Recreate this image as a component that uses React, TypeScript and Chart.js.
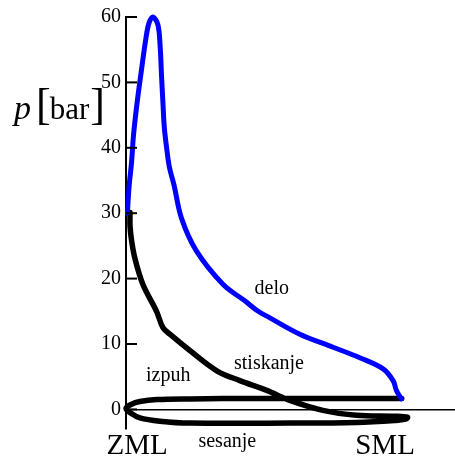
import { useEffect, useRef } from 'react';
import { Chart, registerables } from 'chart.js';

Chart.register(...registerables);

// y axis ticks (pressure, bar)
const yTickValues = [0, 10, 20, 30, 40, 50, 60];
// x axis labels (piston positions) and where they sit on the stroke axis (0..100)
const xTickLabels = ['ZML', 'SML'];
const xTickValues = [4, 93.3];

// blue curve: combustion + expansion ("delo")
const blueX = [0.5, 1.1, 2.0, 2.7, 4.0, 5.6, 7.2, 8.3, 9.7, 11.5, 12.3, 12.8, 13.3, 13.8, 14.6, 15.6, 17.3, 20.0, 25.4, 35.0, 42.8, 47.6, 51.8, 62.6, 74.6, 84.2, 92.6, 96.2, 97.4, 99.2];
const blueP = [30, 34, 37.8, 41.9, 46.9, 52, 56.8, 59.1, 60, 58.8, 55.5, 51, 46.9, 43.1, 40.1, 37.1, 34.3, 29.2, 24.2, 19.1, 16.6, 15, 14, 11.5, 9.5, 7.9, 6.2, 4.4, 2.9, 1.6];

// black curve: exhaust ("izpuh") -> intake ("sesanje") -> compression ("stiskanje")
const blackX = [99.3, 73.4, 47.1, 23, 11.2, 5, 1.8, 0, 1.8, 5, 12.2, 23, 59, 83, 96.8, 100.7, 101.4, 96.8, 83, 70.9, 59, 50.7, 41, 32.7, 23, 15.8, 13.3, 11, 6.1, 3.2, 2.05, 1.45, 1.45];
const blackP = [1.67, 1.67, 1.67, 1.6, 1.5, 1.2, 0.75, 0.15, -0.6, -1.3, -1.8, -2.1, -2.1, -2.0, -1.7, -1.5, -1.2, -1.05, -0.9, -0.15, 1.37, 2.9, 4.4, 5.9, 9.0, 11.5, 12.5, 15, 19.1, 23.1, 25.7, 28, 30.1];

// in-plot annotations
const noteTexts = ['delo', 'stiskanje', 'izpuh', 'sesanje'];
const noteX = [52.5, 51.5, 15.2, 36.5];
const noteP = [17.6, 6.2, 4.4, -5.7];

const SERIF = '"Liberation Serif", "Times New Roman", serif';

const decorPlugin = {
  id: 'decor',
  afterDraw(chart: any) {
    const { ctx, chartArea, scales } = chart;
    const xs = scales.x;
    const ys = scales.y;
    ctx.save();
    // inward tick marks on y axis
    ctx.strokeStyle = '#000';
    ctx.lineWidth = 2;
    yTickValues.forEach((v) => {
      const py = ys.getPixelForValue(v);
      ctx.beginPath();
      ctx.moveTo(chartArea.left, py);
      ctx.lineTo(chartArea.left + 11, py);
      ctx.stroke();
    });
    // annotations
    ctx.fillStyle = '#000';
    ctx.font = `20px ${SERIF}`;
    ctx.textAlign = 'center';
    ctx.textBaseline = 'alphabetic';
    noteTexts.forEach((t, i) => {
      ctx.fillText(t, xs.getPixelForValue(noteX[i]), ys.getPixelForValue(noteP[i]));
    });
    // y axis title  p[bar]
    ctx.textAlign = 'left';
    const base = 118.5;
    let x = 14;
    ctx.font = `italic 34px ${SERIF}`;
    ctx.fillText('p', x, base);
    x += ctx.measureText('p').width + 5;
    ctx.font = `44px ${SERIF}`;
    ctx.fillText('[', x, base);
    x += ctx.measureText('[').width - 1;
    ctx.font = `31px ${SERIF}`;
    ctx.fillText('bar', x, base);
    x += ctx.measureText('bar').width + 1;
    ctx.font = `44px ${SERIF}`;
    ctx.fillText(']', x, base);
    ctx.restore();
  },
};

export default function App() {
  const canvasRef = useRef<HTMLCanvasElement | null>(null);

  useEffect(() => {
    const canvas = canvasRef.current;
    if (!canvas) return;
    const blue = blueX.map((x, i) => ({ x, y: blueP[i] }));
    const black = blackX.map((x, i) => ({ x, y: blackP[i] }));
    const chart = new Chart(canvas, {
      type: 'scatter',
      data: {
        datasets: [
          {
            data: blue,
            showLine: true,
            borderColor: '#0000ff',
            borderWidth: 5,
            pointRadius: 0,
            tension: 0.35,
            borderCapStyle: 'round',
            borderJoinStyle: 'round',
            clip: false,
          } as any,
          {
            data: black,
            showLine: true,
            borderColor: '#000000',
            borderWidth: 5.5,
            pointRadius: 0,
            tension: 0.35,
            borderCapStyle: 'round',
            borderJoinStyle: 'round',
            clip: false,
          } as any,
        ],
      },
      options: {
        responsive: false,
        animation: false,
        layout: { padding: { top: 14, right: 0, bottom: 0, left: 0 } },
        plugins: { legend: { display: false }, tooltip: { enabled: false } },
        scales: {
          x: {
            type: 'linear',
            min: 0,
            max: 118.5,
            afterBuildTicks: (s: any) => {
              s.ticks = xTickValues.map((v) => ({ value: v }));
            },
            afterFit: (s: any) => {
              s.height = 34;
            },
            ticks: {
              callback: (_v: any, i: number) => xTickLabels[i],
              font: { family: SERIF, size: 29 },
              color: '#000',
              padding: 0,
              maxRotation: 0,
              autoSkip: false,
            },
            grid: { display: false, drawTicks: false },
            border: { display: false },
          },
          y: {
            type: 'linear',
            min: -3,
            max: 60,
            afterBuildTicks: (s: any) => {
              s.ticks = yTickValues.map((v) => ({ value: v }));
            },
            afterFit: (s: any) => {
              s.width = 126;
            },
            ticks: {
              font: { family: SERIF, size: 20 },
              color: '#000',
              padding: 5,
            },
            grid: {
              drawTicks: false,
              color: (c: any) => (c.tick && c.tick.value === 0 ? '#000' : 'rgba(0,0,0,0)'),
              lineWidth: 1.5,
            },
            border: { display: true, color: '#000', width: 2 },
          },
        },
      },
      plugins: [decorPlugin],
    });
    return () => chart.destroy();
  }, []);

  return (
    <div style={{ position: 'fixed', left: 0, top: 0, width: 455, height: 463, background: '#fff' }}>
      <canvas ref={canvasRef} width={455} height={463} style={{ width: 455, height: 463, display: 'block' }} />
    </div>
  );
}
